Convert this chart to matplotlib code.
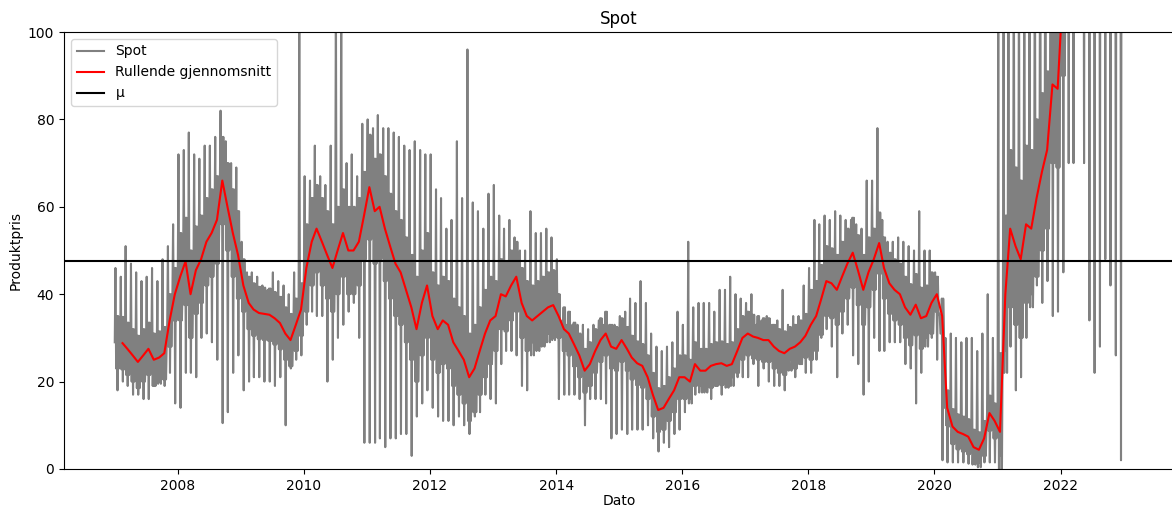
import numpy as np
import pandas as pd
import matplotlib
matplotlib.use("Agg")
import matplotlib.pyplot as plt
import matplotlib.dates as mdates

# monthly readings, jan 2007 - dec 2022
months = pd.date_range("2007-01-01", periods=192, freq="MS")

rullende = [
    29, 28.8, 27.5, 26, 24.5, 26, 27.5, 25, 25.5, 26.5, 34, 40,          # 2007
    44, 47.5, 40, 45.5, 48, 52, 54, 57, 66, 60, 54, 49,                  # 2008
    42, 38, 36.5, 35.7, 35.5, 35.3, 34.5, 33.4, 31, 29.5, 33, 36.5,      # 2009
    46, 52, 55, 52, 49, 46, 50, 54, 50, 50, 52, 58,                      # 2010
    64.5, 59, 60, 55, 51, 47, 45, 41, 37, 32, 38, 42,                    # 2011
    35, 32, 34, 33, 29, 27, 25, 21, 23, 27, 31, 34,                      # 2012
    35, 40, 39.5, 42, 44, 38, 35, 34, 35, 36, 37, 37.5,                  # 2013
    35, 32, 31, 28.5, 26, 22.5, 24, 27, 29.5, 31, 28, 27.5,              # 2014
    29.5, 27.5, 25.5, 24.2, 23.6, 21, 17, 13.5, 14, 16, 18, 21,          # 2015
    21, 20, 24, 22.5, 22.5, 23.6, 24, 24.2, 23.6, 24, 27, 30,            # 2016
    31, 30.3, 30, 29.5, 29.5, 28, 27, 26.5, 27.5, 28, 29, 30.5,          # 2017
    33, 35, 38.7, 43, 42.5, 41, 44, 47, 49.5, 45.5, 41, 45,              # 2018
    48, 51.7, 46, 42.5, 41, 40, 37, 35.3, 37.6, 34.5, 35, 38,            # 2019
    40, 35, 14, 9.7, 8.5, 8, 7.4, 5, 4.4, 7, 12.8, 11,                   # 2020
    8.5, 40, 55, 51, 48, 56, 55, 62, 68, 73, 88, 87,                     # 2021
    110, 120, 130, 140, 150, 150, 160, 200, 220, 180, 160, 170,          # 2022
]

spot_hoy = [
    46, 44, 51, 47, 45, 43, 44, 46, 43, 48, 51, 56,
    72, 73, 77, 72, 71, 74, 74, 76, 82, 75, 70, 69,
    52, 45, 45, 44, 42, 41, 45, 43, 42, 40, 45, 110,
    67, 66, 74, 67, 65, 74, 110, 110, 70, 72, 67, 79,
    80, 78, 81, 78, 78, 77, 76, 74, 73, 75, 73, 72,
    72, 64, 62, 55, 57, 75, 62, 96, 61, 59, 55, 63,
    65, 58, 55, 57, 53, 50, 50, 59, 54, 54, 55, 53,
    48, 34, 33, 33, 33, 33, 32, 33, 34, 33, 33, 33,
    35, 36, 39, 38, 43, 38, 31, 28, 27, 28, 29, 36,
    33, 52, 37, 38, 38, 38, 36, 41, 41, 44, 40, 39,
    38, 40, 33, 34, 35, 33, 34, 41, 33, 35, 35, 42,
    46, 57, 56, 58, 57, 59, 58, 57, 57, 56, 55, 66,
    66, 78, 57, 52, 52, 53, 52, 51, 50, 59, 50, 50,
    45, 31, 30, 31, 30, 29, 30, 30, 27, 31, 40, 30,
    120, 120, 130, 125, 120, 125, 130, 130, 140, 150, 160, 170,
    180, 190, 200, 210, 200, 210, 220, 260, 280, 240, 220, 230,
]

spot_lav = [
    18, 20, 19, 17, 17, 16, 16, 19, 20, 19, 22, 15,
    14, 22, 22, 21, 30, 31, 29, 25, 10.5, 13, 22, 26,
    18, 20, 21, 21, 20, 20, 19, 21, 10, 23, 25, 26,
    33, 36, 35, 35, 20, 25, 30, 33, 36, 38, 30, 6,
    6, 6, 7, 5, 7, 7, 8, 8, 3, 12, 15, 18,
    14, 12, 11, 11, 10, 12, 10, 8, 12, 13, 17, 16,
    15, 24, 27, 27, 26, 19, 18, 29, 29, 30, 31, 30,
    16, 17, 17, 17, 16, 10, 16, 16, 16, 15, 7, 8,
    9, 8, 9, 9, 9, 10, 7, 4, 6, 5, 8, 9,
    13, 16, 17, 19, 19, 16, 19, 17, 20, 21, 21, 21,
    21, 24, 19, 23, 20, 19, 19, 18, 25, 21, 24, 22,
    22, 25, 30, 32, 28, 21, 31, 33, 26, 24, 17, 20,
    30, 27, 27, 29, 29, 29, 24, 23, 15, 22, 30, 30,
    25, 2, 1.5, 1.5, 1.5, 1.5, 1.2, 1.2, 1.5, 1.5, 1.5, 1.5,
    3, 27, 28, 18, 21, 30, 40, 42, 38, 43, 35, 36,
    45, 70, 70, 105, 70, 34, 22, 28, 48, 42, 26, 2,
]

# half-width of the dense daily band around the rolling level, per year 2007-2022
spot_band = [6, 10, 6, 10, 12, 10, 8, 5, 5, 5, 5, 8, 7, 4, 18, 20]

mu = 47.5

# spot series: one up and one down spike per month, plus the daily band
tider = []
verdier = []
for i, (m, mid, hoy, lav) in enumerate(zip(months, rullende, spot_hoy, spot_lav)):
    b = spot_band[i // 12]
    for dag, v in zip([0, 4, 8, 12, 16, 20, 24],
                      [mid, hoy, mid - b, mid + b, lav, mid + b, mid - b]):
        tider.append(m + pd.Timedelta(days=dag))
        verdier.append(v)

fig = plt.figure(figsize=(11.72, 5.08), dpi=100)
ax = fig.add_axes([64 / 1172, 1 - 469 / 508, (1174 - 64) / 1172, 437 / 508])

ax.plot(tider, verdier, color="grey", label="Spot")
ax.plot(months[1:] + pd.Timedelta(days=14), rullende[1:], color="red", label="Rullende gjennomsnitt")
ax.axhline(mu, color="black", label="μ")

ax.set_ylim(0, 100)
ax.set_xlim(pd.Timestamp("2006-03-13"), pd.Timestamp("2023-10-20"))
ax.xaxis.set_major_locator(mdates.YearLocator(2))
ax.xaxis.set_major_formatter(mdates.DateFormatter("%Y"))
ax.set_title("Spot")
ax.set_xlabel("Dato", labelpad=1)
ax.set_ylabel("Produktpris")
ax.legend(loc="upper left")

fig.savefig("out.png")
